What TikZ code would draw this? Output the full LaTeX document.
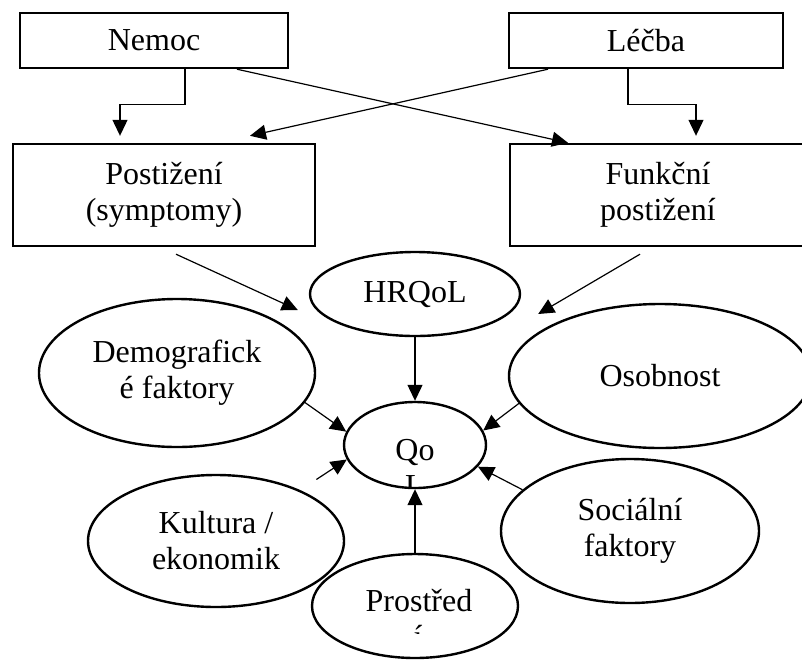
\documentclass[tikz,border=0pt]{standalone}
\usepackage{fontspec}
\setmainfont{Liberation Serif}
\usetikzlibrary{shapes.geometric,arrows.meta}

\begin{document}
\begin{tikzpicture}[x=1pt, y=-1pt, >={Triangle[length=16pt,width=15pt]},
	font=\fontsize{32}{36}\selectfont,
	box/.style={draw, line width=2.4pt, inner sep=0pt, align=center},
	oval/.style={ellipse, draw, line width=2.4pt, inner sep=0pt, align=center},
	conn/.style={->, line width=1.2pt}]
	%\draw [help lines] (0,0) grid (802,659);
	\useasboundingbox (0,0) rectangle (802,659);
	% top row
	\node [box, minimum width=268pt, minimum height=55pt] (nemoc) at (154,40.5) {Nemoc};
	\node [box, minimum width=274pt, minimum height=55pt] (lecba) at (646,40.5) {Léčba};
	\node [box, minimum width=302pt, minimum height=102pt] (post) at (164,195) {Postižení\\(symptomy)};
	\node [box, minimum width=296pt, minimum height=102pt] (funk) at (658,195) {Funkční\\postižení};
	% ovals
	\node [oval, minimum width=210pt, minimum height=84pt] (hrqol) at (415,294) {HRQoL};
	\node [oval, minimum width=276pt, minimum height=148pt] (demo) at (177,373) {Demografick\\é faktory};
	\node [oval, minimum width=302pt, minimum height=144pt] (osob) at (660,376) {Osobnost};
	\node [oval, minimum width=142pt, minimum height=86pt] (qol) at (415,445) {};
	\node [oval, minimum width=256pt, minimum height=132pt] (kult) at (216,541) {Kultura /\\ekonomik};
	\node [oval, minimum width=258pt, minimum height=144pt] (soc) at (630,531) {Sociální\\faktory};
	\node [oval, minimum width=206pt, minimum height=104pt] (prost) at (415,606) {};
	% cut text
	\begin{scope}
		\clip (340,405) rectangle (490,486);
		\node [anchor=base] (qoltop) at (415,460) {Qo};
		\node [anchor=base] (qolbot) at (415,496) {L};
	\end{scope}
	\begin{scope}
		\clip (316,560) rectangle (518,633);
		\node [anchor=base] (prosttop) at (419,611) {Prostřed};
		\node [anchor=base] (prostbot) at (418,647) {í};
	\end{scope}
	% arrows
	\draw [conn] ([xshift=31pt]nemoc.south) -- ++(0,35) -| ([shift={(-44,-7)}]post.north);
	\draw [conn] ([xshift=-18pt]lecba.south) -- ++(0,35) -| ([shift={(38,-7)}]funk.north);
	\draw [conn] ([xshift=83pt]nemoc.south) -- ([xshift=-90pt]funk.north);
	\draw [conn] ([xshift=-98pt]lecba.south) -- ([shift={(86,-7)}]post.north);
	\draw [conn] ([shift={(12,7)}]post.south) -- ([shift={(-11,16)}]hrqol.west);
	\draw [conn] ([shift={(-18,7)}]funk.south) -- ([shift={(17,20)}]hrqol.east);
	\draw [conn] (hrqol) -- (qol);
	\draw [conn] (demo.-13) -- (qol.169);
	\draw [conn] (osob.191) -- (qol.12);
	\draw [conn] ([shift={(9,-14)}]kult.north east) -- (qol.192);
	\draw [conn] (soc.159) -- (qol.-19);
	\draw [conn] (prost) -- (qol);
\end{tikzpicture}
\end{document}
